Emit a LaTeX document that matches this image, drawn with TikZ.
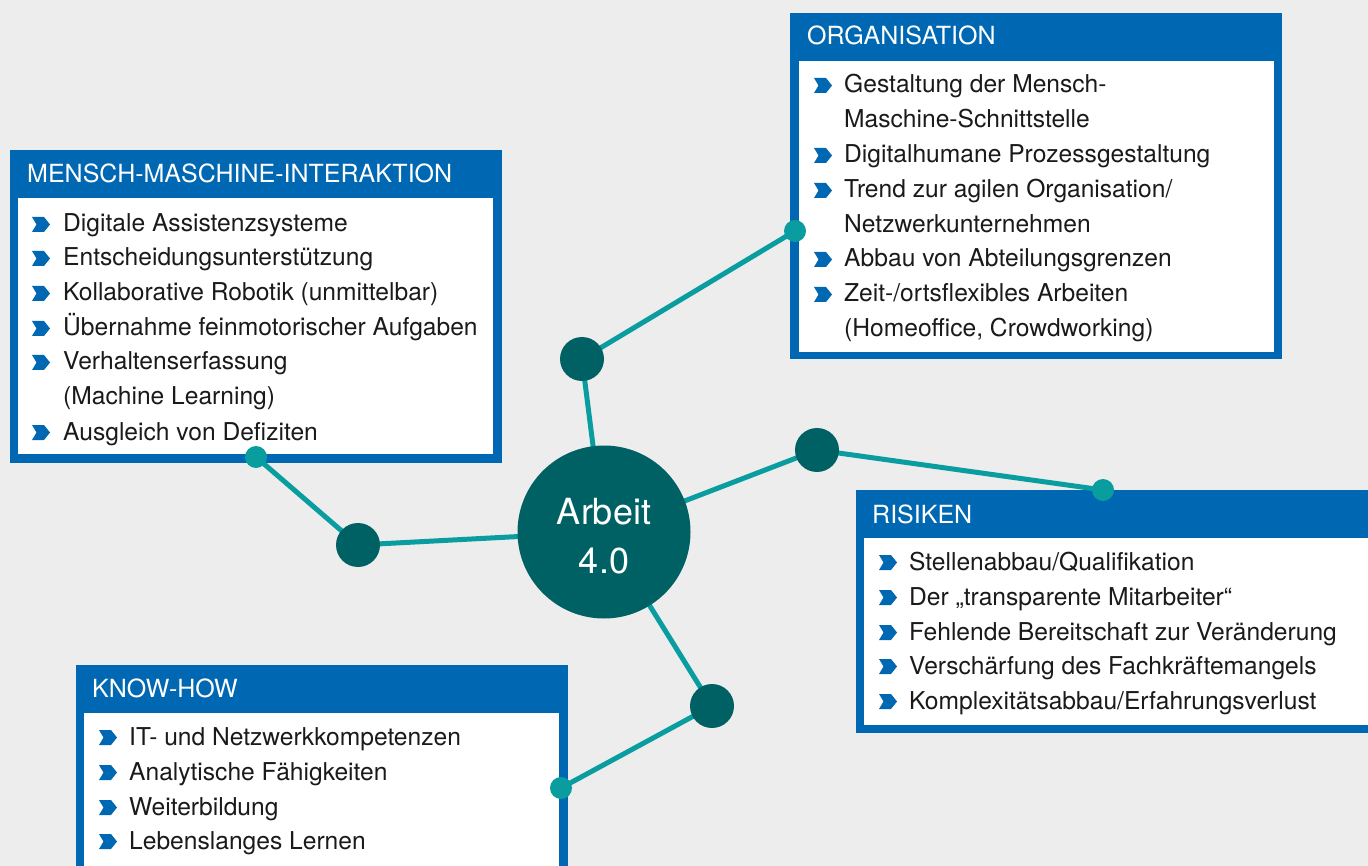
\documentclass[tikz,border=0pt]{standalone}
\usepackage{fontspec}
\setmainfont{TeX Gyre Heros}
\pgfdeclarelayer{back}
\pgfdeclarelayer{lines}
\pgfsetlayers{back,lines,main}
\definecolor{bgc}{HTML}{EDEDED}
\definecolor{bluec}{HTML}{0068B2}
\definecolor{tealc}{HTML}{0A9DA0}
\definecolor{darkc}{HTML}{006164}
\definecolor{txtc}{HTML}{1A1A1A}
\begin{document}
\begin{tikzpicture}[x=1pt,y=-1pt,
 item/.style={anchor=base west,inner sep=0pt,font=\fontsize{24.6}{28}\selectfont,text=txtc},
 head/.style={anchor=base west,inner sep=0pt,font=\fontsize{25}{28}\selectfont,text=white},
 hub/.style={circle,fill=darkc,minimum size=173pt,inner sep=0pt},
 hubtext/.style={anchor=base,inner sep=0pt,text=white,font=\fontsize{36}{40}\selectfont},
 sat/.style={circle,fill=darkc,minimum size=44pt,inner sep=0pt},
 dot/.style={circle,fill=tealc,minimum size=22pt,inner sep=0pt},
 link/.style={draw=tealc,line width=5pt},
 frame/.style={fill=bluec,anchor=north west,inner sep=0pt,outer sep=0pt},
 paper/.style={fill=white,anchor=north west,inner sep=0pt,outer sep=0pt},
 chev/.pic={\fill[bluec] (0,0)--(12,0)--(18,-7.5)--(12,-15)--(0,-15)--(4.5,-7.5)--cycle;}
]
\useasboundingbox (0,0) rectangle (1368,866);
\clip (0,0) rectangle (1368,866);
\begin{pgfonlayer}{back}
\fill[bgc] (0,0) rectangle (1368,866);
% boxes
\node[frame,minimum width=492pt,minimum height=313pt] (mmibox) at (10,150) {};
\node[paper,minimum width=475pt,minimum height=256pt] (mmiin) at (18,198) {};
\node[frame,minimum width=492pt,minimum height=346pt] (orgbox) at (790,13) {};
\node[paper,minimum width=475pt,minimum height=291pt] (orgin) at (799,61) {};
\node[frame,minimum width=530pt,minimum height=243pt] (risbox) at (856,490) {};
\node[paper,minimum width=520pt,minimum height=187pt] (risin) at (864,538) {};
\node[frame,minimum width=492pt,minimum height=230pt] (khbox) at (76,665) {};
\node[paper,minimum width=475pt,minimum height=220pt] (khin) at (84,713) {};
\end{pgfonlayer}

% network nodes
\node[hub] (hub) at (604,532) {};
\node[hubtext] (hubt1) at (604,524) {Arbeit};
\node[hubtext] (hubt2) at (604,573) {4.0};
\node[sat] (s1) at (582,359) {};
\node[sat] (s2) at (817,450) {};
\node[sat] (s3) at (358,545) {};
\node[sat] (s4) at (712,706) {};
\node[dot] (d1) at (795,231) {};
\node[dot] (d2) at (1103,490) {};
\node[dot] (d3) at (256,457) {};
\node[dot] (d4) at (561,788) {};
\begin{pgfonlayer}{lines}
\draw[link] (hub.center) -- (s1.center) -- (d1.center);
\draw[link] (hub.center) -- (s2.center) -- (d2.center);
\draw[link] (hub.center) -- (s3.center) -- (d3.center);
\draw[link] (hub.center) -- (s4.center) -- (d4.center);
\end{pgfonlayer}

% MENSCH-MASCHINE-INTERAKTION
\node[head] (mmih) at (27,183) {MENSCH-MASCHINE-INTERAKTION};
\foreach \y in {232,266,301,336,370,440} \pic at (32,\y) {chev};
\node[item] (m1) at (63,232) {Digitale Assistenzsysteme};
\node[item] (m2) at (63,266) {Entscheidungsunterstützung};
\node[item] (m3) at (63,301) {Kollaborative Robotik (unmittelbar)};
\node[item] (m4) at (63,336) {Übernahme feinmotorischer Aufgaben};
\node[item] (m5) at (63,370) {Verhaltenserfassung};
\node[item] (m5b) at (63,405) {(Machine Learning)};
\node[item] (m6) at (63,440) {Ausgleich von Defiziten};

% ORGANISATION
\node[head] (orgh) at (807,45) {ORGANISATION};
\foreach \y in {93,163,198,267,302} \pic at (814,\y) {chev};
\node[item] (o1) at (844,93) {Gestaltung der Mensch-};
\node[item] (o1b) at (844,128) {Maschine-Schnittstelle};
\node[item] (o2) at (844,163) {Digitalhumane Prozessgestaltung};
\node[item] (o3) at (844,198) {Trend zur agilen Organisation/};
\node[item] (o3b) at (844,233) {Netzwerkunternehmen};
\node[item] (o4) at (844,267) {Abbau von Abteilungsgrenzen};
\node[item] (o5) at (844,302) {Zeit-/ortsflexibles Arbeiten};
\node[item] (o5b) at (844,337) {(Homeoffice, Crowdworking)};

% RISIKEN
\node[head] (rish) at (872,523) {RISIKEN};
\foreach \y in {570,605,640,674,709} \pic at (879,\y) {chev};
\node[item] (r1) at (909,570) {Stellenabbau/Qualifikation};
\node[item] (r2) at (909,605) {Der „transparente Mitarbeiter“};
\node[item] (r3) at (909,640) {Fehlende Bereitschaft zur Veränderung};
\node[item] (r4) at (909,674) {Verschärfung des Fachkräftemangels};
\node[item] (r5) at (909,709) {Komplexitätsabbau/Erfahrungsverlust};

% KNOW-HOW
\node[head] (khh) at (92,697) {KNOW-HOW};
\foreach \y in {745,780,815,849} \pic at (99,\y) {chev};
\node[item] (k1) at (129,745) {IT- und Netzwerkkompetenzen};
\node[item] (k2) at (129,780) {Analytische Fähigkeiten};
\node[item] (k3) at (129,815) {Weiterbildung};
\node[item] (k4) at (129,849) {Lebenslanges Lernen};
\end{tikzpicture}
\end{document}
